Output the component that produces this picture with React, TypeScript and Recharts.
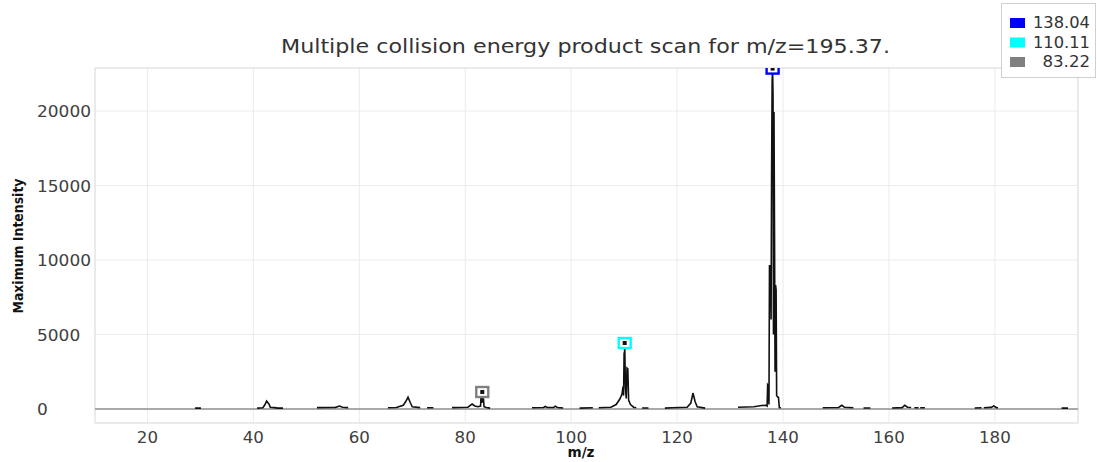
import React from "react";
import {
  ComposedChart,
  Line,
  Scatter,
  XAxis,
  YAxis,
  CartesianGrid,
  ReferenceLine,
  ReferenceArea,
  Legend,
  Customized,
} from "recharts";

const titleText = "Multiple collision energy product scan for m/z=195.37.";
const xLabelText = "m/z";
const yLabelText = "Maximum Intensity";

const xTicks = [20, 40, 60, 80, 100, 120, 140, 160, 180];
const yTicks = [0, 5000, 10000, 15000, 20000];
const xDomain = [10.1, 195.7];
const yDomain = [-940, 22890];

// profile spectrum; null marks a gap in the trace
const spectrumMz = [
  29.0, 30.1, 35,
  40.7, 41.8, 42.2, 42.5, 42.9, 43.2, 44.0, 44.6, 45.6, 48,
  52.0, 55.5, 56.3, 56.8, 57.9, 61,
  65.4, 67.0, 68.3, 68.8, 69.2, 69.6, 70.0, 71.5, 72.2,
  72.8, 74.0, 76,
  77.5, 80.5, 81.3, 81.8, 82.4, 82.9, 83.0, 83.1, 83.22, 83.35, 83.45, 83.55, 84.0, 84.7, 88,
  92.6, 94.8, 95.1, 95.5, 96.7, 97.0, 97.4, 98.5, 100,
  101.6, 104.1, 104.6,
  105.2, 107.5, 108.5, 109.2, 109.6, 109.8, 109.9, 110.0, 110.05, 110.11, 110.25, 110.4, 110.55, 110.7, 110.85, 111.2, 111.8, 112.3, 112.9,
  113.4, 114.6, 116,
  117.7, 119.0, 121.9, 122.6, 123.0, 123.4, 123.8, 125.3, 128,
  131.5, 134.5, 136.0, 136.8, 137.0, 137.1, 137.25, 137.35, 137.45, 137.55, 137.65, 137.75, 137.85, 137.95, 138.04, 138.12, 138.2, 138.3, 138.4, 138.5, 138.6, 138.7, 138.8, 139.0, 139.15, 139.3, 139.6, 143,
  147.5, 150.5, 151.1, 151.6, 153.3, 154.2,
  155.2, 156.5, 158,
  160.6, 162.5, 163.0, 163.5, 164.2, 164.5,
  164.8, 165.6, 165.75,
  165.9, 166.8, 170,
  176.2, 177.5, 177.7,
  177.9, 179.3, 179.8, 180.3, 180.6, 185,
  192.6, 193.8,
];

const spectrumIntensity: (number | null)[] = [
  60, 60, null,
  60, 80, 300, 540, 350, 120, 90, 60, 60, null,
  90, 110, 200, 120, 90, null,
  80, 100, 250, 520, 800, 450, 150, 90, null,
  80, 80, null,
  90, 120, 330, 200, 150, 200, 950, 400, 1140, 450, 700, 150, 100, 60, null,
  80, 100, 170, 100, 110, 190, 100, 70, null,
  60, 80, null,
  80, 120, 300, 670, 1000, 1500, 900, 3800, 2500, 4430, 1500, 700, 2750, 2700, 600, 300, 120, 80, null,
  70, 70, null,
  60, 80, 120, 400, 1070, 500, 150, 60, null,
  120, 150, 230, 250, 200, 1600, 1500, 300, 9660, 9400, 9660, 6000, 16000, 22000, 22850, 21000, 5000, 19930, 12000, 2500, 8320, 8000, 900, 800, 780, 100, 60, null,
  80, 100, 250, 120, 80, null,
  70, 70, null,
  70, 90, 250, 120, 100, null,
  80, 80, null,
  80, 80, null,
  70, 80, null,
  80, 110, 200, 90, 80, null,
  60, 60,
];

const peakMz = [138.04, 110.11, 83.22];
const peakIntensity = [22850, 4430, 1140];
const peakLabels = ["138.04", "110.11", "83.22"];
const peakColors = ["#0000ff", "#00ffff", "#808080"];

const spectrumData = spectrumMz.map((mz, i) => ({ mz, intensity: spectrumIntensity[i] }));
const peakData = peakMz.map((mz, i) => ({
  mz,
  intensity: peakIntensity[i],
  label: peakLabels[i],
  color: peakColors[i],
}));

const FONT = "'DejaVu Sans', Verdana, sans-serif";
const COND = "'DejaVu Sans Condensed', 'Liberation Sans Narrow', 'DejaVu Sans', sans-serif";

const XTick = (props: any) => {
  const { x, y, payload } = props;
  const s = String(payload.value);
  return (
    <text
      x={x}
      y={y + 12}
      textAnchor="middle"
      fontFamily={FONT}
      fontSize={15}
      fill="#404040"
      textLength={s.length * 10.6}
      lengthAdjust="spacingAndGlyphs"
    >
      {s}
    </text>
  );
};

const YTick = (props: any) => {
  const { y, payload } = props;
  const s = String(payload.value);
  return (
    <text
      x={37}
      y={y + 6}
      textAnchor="start"
      fontFamily={FONT}
      fontSize={15}
      fill="#404040"
      textLength={s.length * 10.8}
      lengthAdjust="spacingAndGlyphs"
    >
      {s}
    </text>
  );
};

const Texts = () => (
  <g>
    <text
      x={281}
      y={53}
      fontFamily={FONT}
      fontSize={20}
      fill="#333333"
      textLength={609}
      lengthAdjust="spacingAndGlyphs"
    >
      {titleText}
    </text>
    <text
      x={23}
      y={246}
      transform="rotate(-90, 23, 246)"
      textAnchor="middle"
      fontFamily={COND}
      fontWeight="bold"
      fontSize={14}
      fill="#111111"
      textLength={135}
      lengthAdjust="spacingAndGlyphs"
    >
      {yLabelText}
    </text>
    <text
      x={581}
      y={457}
      textAnchor="middle"
      fontFamily={COND}
      fontWeight="bold"
      fontSize={14}
      fill="#111111"
      textLength={27}
      lengthAdjust="spacingAndGlyphs"
    >
      {xLabelText}
    </text>
  </g>
);

const PeakMarker = (props: any) => {
  const { cx, cy, payload } = props;
  if (cx == null || cy == null) return null;
  return (
    <g>
      <rect x={cx - 6} y={cy - 5} width={12} height={10} fill="#ffffff" stroke={payload.color} strokeWidth={2.4} />
      <rect x={cx - 2} y={cy - 2} width={4} height={4} fill="#111111" />
    </g>
  );
};

const LegendBox = () => (
  <svg width={96} height={76} style={{ display: "block" }}>
    <rect x={0.5} y={0.5} width={94} height={74} fill="#ffffff" stroke="#cfcfcf" />
    {peakData.map((p, i) => (
      <g key={p.label}>
        <rect x={9} y={15 + i * 19.5} width={15} height={10} fill={p.color} />
        <text
          x={89}
          y={25 + i * 19.5}
          textAnchor="end"
          fontFamily={FONT}
          fontSize={15}
          fill="#333333"
          textLength={p.label.length * 9.5}
          lengthAdjust="spacingAndGlyphs"
        >
          {p.label}
        </text>
      </g>
    ))}
  </svg>
);

export default function App() {
  return (
    <div style={{ position: "absolute", left: 0, top: 0, width: 1097, height: 462, background: "#ffffff", overflow: "hidden" }}>
      <ComposedChart
        width={1097}
        height={462}
        margin={{ top: 68, right: 19, left: 0, bottom: 0 }}
      >
        <CartesianGrid stroke="#ebebeb" strokeWidth={1} />
        <XAxis
          type="number"
          dataKey="mz"
          domain={xDomain}
          ticks={xTicks}
          allowDataOverflow
          axisLine={false}
          tickLine={false}
          height={39}
          tick={<XTick />}
          interval={0}
        />
        <YAxis
          type="number"
          dataKey="intensity"
          domain={yDomain}
          ticks={yTicks}
          allowDataOverflow
          axisLine={false}
          tickLine={false}
          width={95}
          tick={<YTick />}
          interval={0}
        />
        <ReferenceArea
          x1={xDomain[0]}
          x2={xDomain[1]}
          y1={yDomain[0]}
          y2={yDomain[1]}
          fill="none"
          stroke="#e0e0e0"
          ifOverflow="visible"
        />
        <ReferenceLine y={0} stroke="#8f8f8f" strokeWidth={1.6} />
        <Line
          data={spectrumData}
          dataKey="intensity"
          type="linear"
          stroke="#111111"
          strokeWidth={1.6}
          dot={false}
          activeDot={false}
          isAnimationActive={false}
          connectNulls={false}
        />
        <Scatter
          data={peakData}
          dataKey="intensity"
          shape={<PeakMarker />}
          isAnimationActive={false}
        />
        <Legend
          layout="horizontal"
          verticalAlign="middle"
          align="center"
          content={() => <LegendBox />}
          wrapperStyle={{ position: "absolute", left: 1001, top: 3, width: 96, height: 76, margin: 0, padding: 0 }}
        />
        <Customized component={<Texts />} />
      </ComposedChart>
    </div>
  );
}
